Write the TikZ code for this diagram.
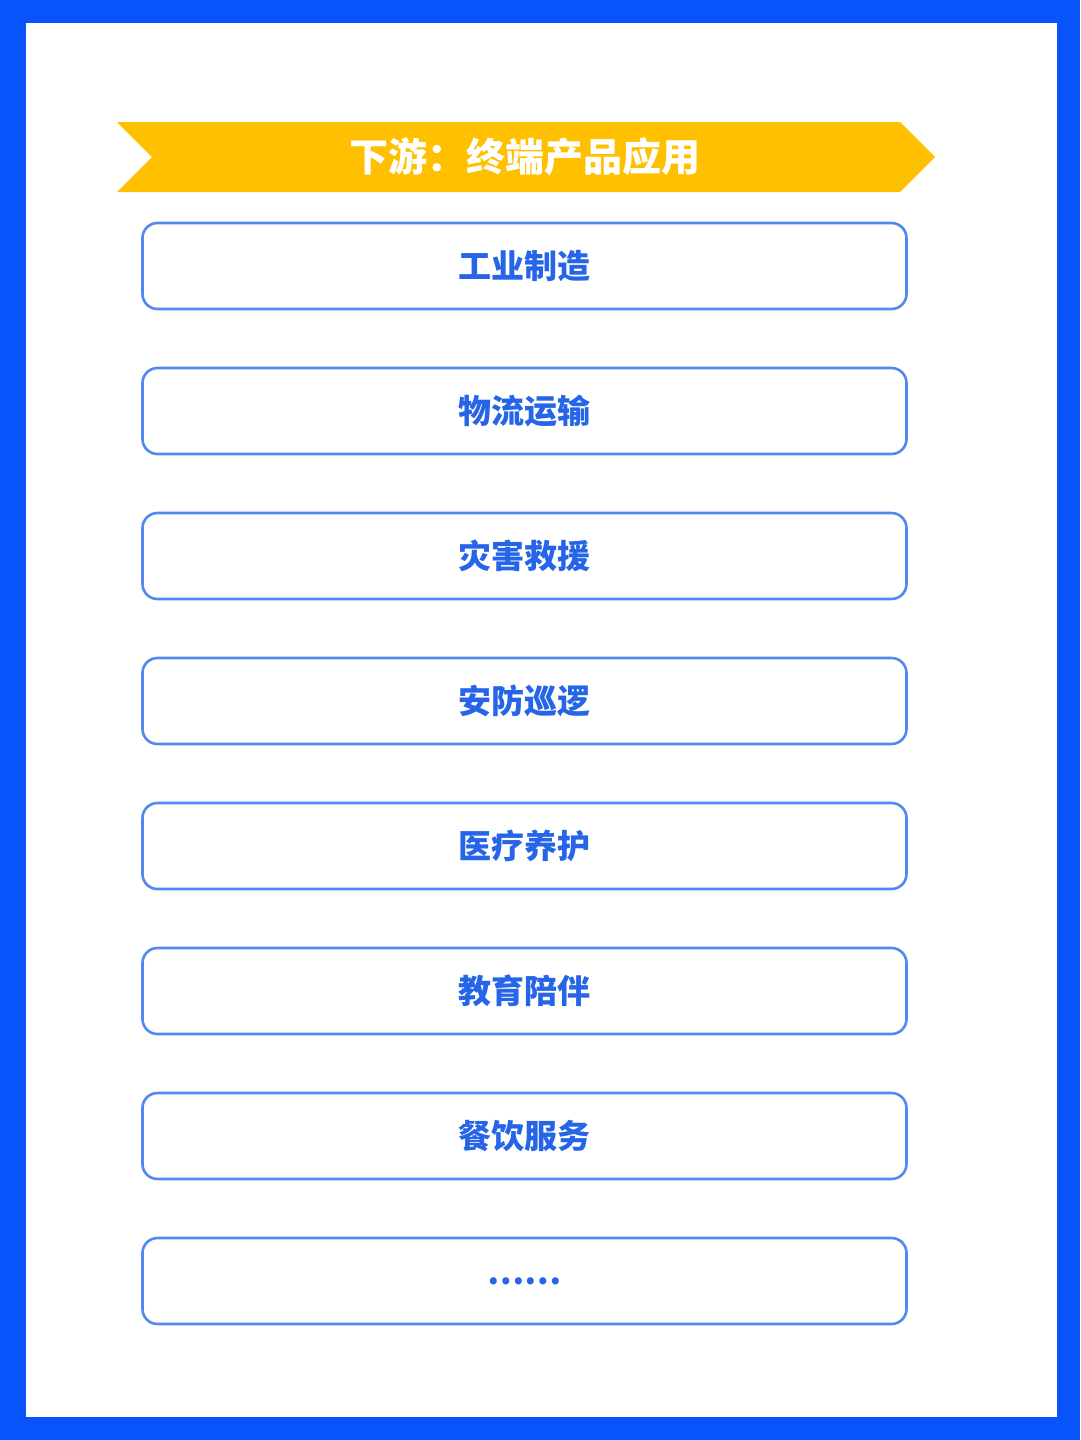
\documentclass[tikz,border=0pt]{standalone}
\usepackage{fontspec}
\newfontfamily\cjk{Noto Sans CJK SC}
\usetikzlibrary{positioning}
\definecolor{frameblue}{RGB}{8,84,250}
\definecolor{boxblue}{RGB}{82,136,240}
\definecolor{textblue}{RGB}{38,100,232}
\definecolor{banneryellow}{RGB}{255,192,0}
\tikzset{
    itemnode/.style = {
        align=center,
        text centered,
        font=\cjk\bfseries\fontsize{33}{40}\selectfont,
        text=textblue,
        rectangle,
        rounded corners=15pt,
        draw=boxblue,
        line width=2.6pt,
        minimum width=764pt,
        minimum height=86pt,
        inner sep=0pt,
        outer sep=0pt
    },
    titlenode/.style = {
        align=center,
        font=\cjk\bfseries\fontsize{39}{46}\selectfont,
        text=white,
        inner sep=0pt
    }
}

\begin{document}
\begin{tikzpicture}[x=1pt,y=-1pt,node distance=59pt]
    \useasboundingbox (0,0) rectangle (1080,1440);
    % frame
    \fill[frameblue] (0,0) rectangle (1080,1440);
    \fill[white] (26,23) rectangle (1057,1417);
    % banner
    \fill[banneryellow] (117,122) -- (900,122) -- (935,157) -- (900,192)
        -- (117,192) -- (152,157) -- cycle;
    \node [titlenode] (title) at (525,157) {下游：终端产品应用};
    % items
    \node [itemnode] (item1) at (524.5,266) {工业制造};
    \node [itemnode, below=of item1] (item2) {物流运输};
    \node [itemnode, below=of item2] (item3) {灾害救援};
    \node [itemnode, below=of item3] (item4) {安防巡逻};
    \node [itemnode, below=of item4] (item5) {医疗养护};
    \node [itemnode, below=of item5] (item6) {教育陪伴};
    \node [itemnode, below=of item6] (item7) {餐饮服务};
    \node [itemnode, below=of item7] (item8) {……};
\end{tikzpicture}
\end{document}
